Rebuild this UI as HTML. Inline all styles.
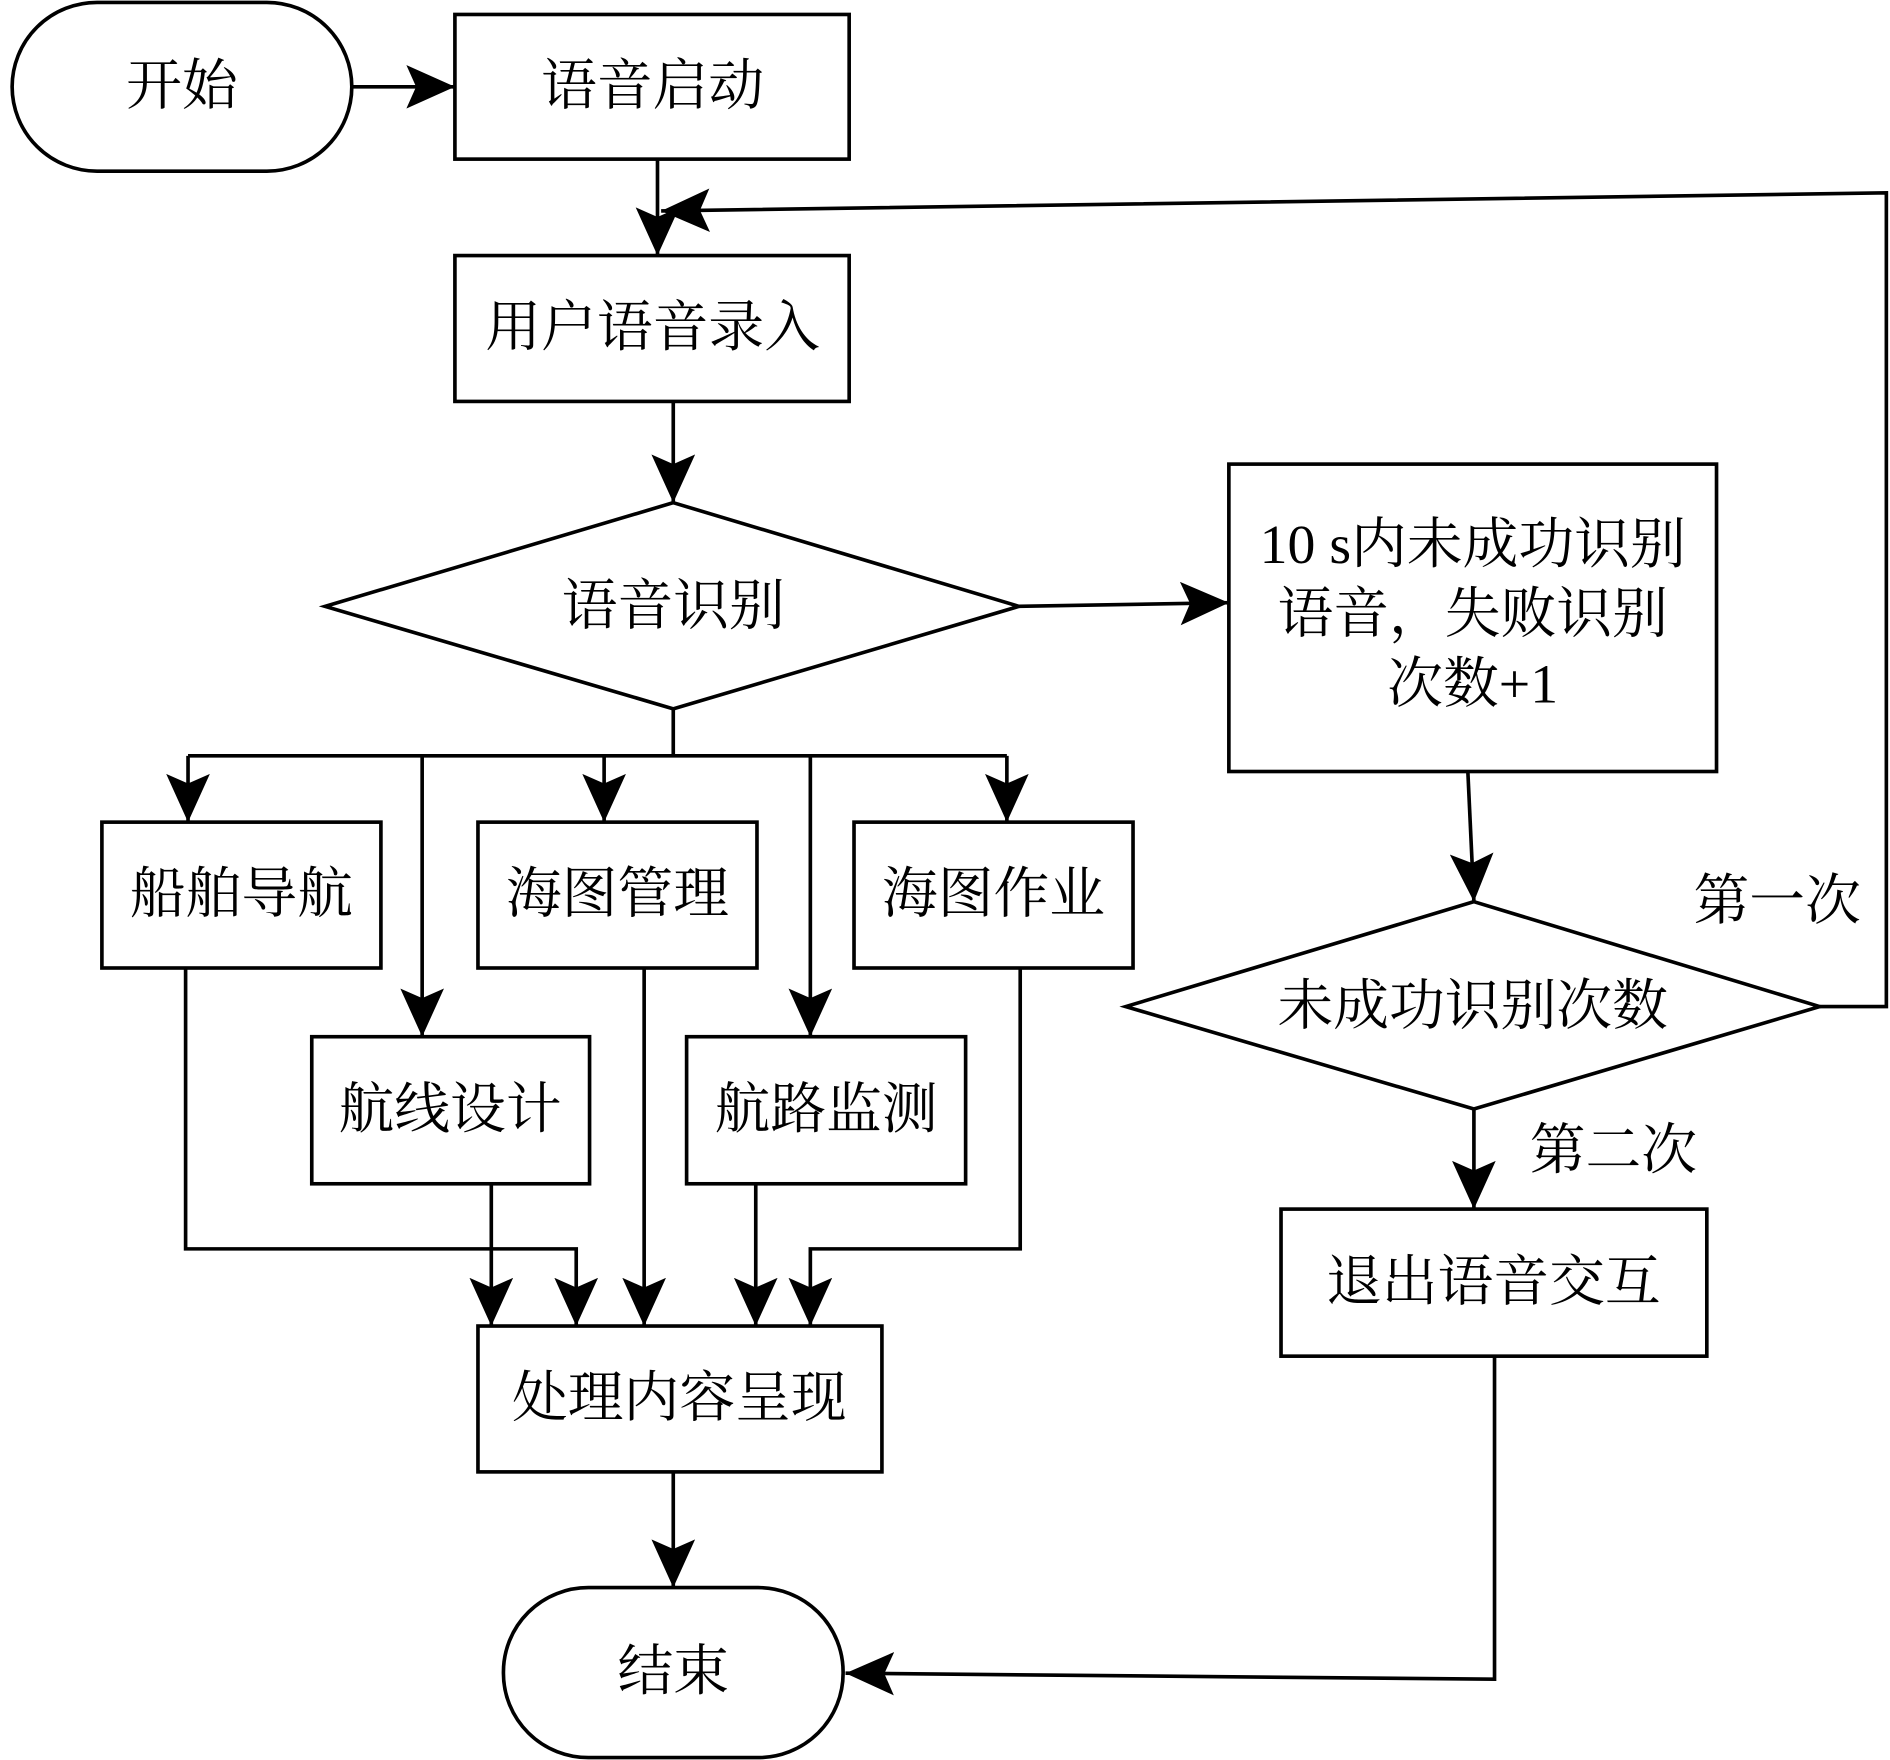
<!DOCTYPE html>
<html><head><meta charset="utf-8"><style>
html,body{margin:0;padding:0;background:#fff;}
svg{display:block;}
text{font-family:"Liberation Serif","Noto Serif CJK SC","Noto Sans CJK SC",serif;font-size:46px;fill:#000;text-anchor:middle;dominant-baseline:central;}
</style></head><body>
<svg width="1890" height="1760" viewBox="0 0 1558 1460" preserveAspectRatio="none" xmlns="http://www.w3.org/2000/svg">
<defs>
<marker id="a" viewBox="0 0 40 36" refX="40" refY="18" markerWidth="40" markerHeight="36" markerUnits="userSpaceOnUse" orient="auto">
<path d="M0,0 L40,18 L0,36 L8,18 Z" fill="#000"/>
</marker>
</defs>
<g fill="none" stroke="#000" stroke-width="3">
<rect x="10" y="2" width="280" height="140" rx="70"/>
<rect x="375" y="12" width="325" height="120"/>
<rect x="375" y="212" width="325" height="121"/>
<polygon points="555,417 840,503 555,588 268,503"/>
<rect x="1013" y="385" width="402" height="255"/>
<polygon points="1215,748 1500,835 1215,920 928,835"/>
<rect x="1056" y="1003" width="351" height="122"/>
<rect x="84" y="682" width="230" height="121"/>
<rect x="394" y="682" width="230" height="121"/>
<rect x="704" y="682" width="230" height="121"/>
<rect x="257" y="860" width="229" height="122"/>
<rect x="566" y="860" width="230" height="122"/>
<rect x="394" y="1100" width="333" height="121"/>
<rect x="415" y="1317" width="280" height="141" rx="70"/>

<line x1="290" y1="72" x2="375" y2="72" marker-end="url(#a)"/>
<line x1="542" y1="132" x2="542" y2="212" marker-end="url(#a)"/>
<polyline points="1500,835 1555,835 1555,160 545,175" marker-end="url(#a)"/>
<line x1="555" y1="333" x2="555" y2="417" marker-end="url(#a)"/>
<line x1="840" y1="503" x2="1013" y2="500" marker-end="url(#a)"/>
<line x1="1210" y1="640" x2="1215" y2="748" marker-end="url(#a)"/>
<line x1="1215" y1="920" x2="1215" y2="1003" marker-end="url(#a)"/>
<polyline points="1232,1125 1232,1393 697,1388" marker-end="url(#a)"/>

<line x1="555" y1="588" x2="555" y2="627"/>
<line x1="155" y1="627" x2="830" y2="627"/>
<line x1="155" y1="627" x2="155" y2="682" marker-end="url(#a)"/>
<line x1="348" y1="627" x2="348" y2="860" marker-end="url(#a)"/>
<line x1="498" y1="627" x2="498" y2="682" marker-end="url(#a)"/>
<line x1="668" y1="627" x2="668" y2="860" marker-end="url(#a)"/>
<line x1="830" y1="627" x2="830" y2="682" marker-end="url(#a)"/>

<polyline points="153,803 153,1036 475,1036 475,1100" marker-end="url(#a)"/>
<line x1="405" y1="982" x2="405" y2="1100" marker-end="url(#a)"/>
<line x1="531" y1="803" x2="531" y2="1100" marker-end="url(#a)"/>
<line x1="623" y1="982" x2="623" y2="1100" marker-end="url(#a)"/>
<polyline points="841,803 841,1036 668,1036 668,1100" marker-end="url(#a)"/>
<line x1="555" y1="1221" x2="555" y2="1317" marker-end="url(#a)"/>
</g>
<text x="150" y="72">开始</text>
<text x="538" y="72">语音启动</text>
<text x="538" y="272">用户语音录入</text>
<text x="555" y="503">语音识别</text>
<text x="1214" y="452">10 s内未成功识别</text>
<text x="1214" y="510">语音，失败识别</text>
<text x="1214" y="568">次数+1</text>
<text x="1214" y="835">未成功识别次数</text>
<text x="1465" y="748">第一次</text>
<text x="1330" y="955">第二次</text>
<text x="1231" y="1064">退出语音交互</text>
<text x="199" y="742">船舶导航</text>
<text x="509" y="742">海图管理</text>
<text x="819" y="742">海图作业</text>
<text x="371" y="921">航线设计</text>
<text x="681" y="921">航路监测</text>
<text x="560" y="1160">处理内容呈现</text>
<text x="555" y="1387">结束</text>
</svg>
</body></html>
